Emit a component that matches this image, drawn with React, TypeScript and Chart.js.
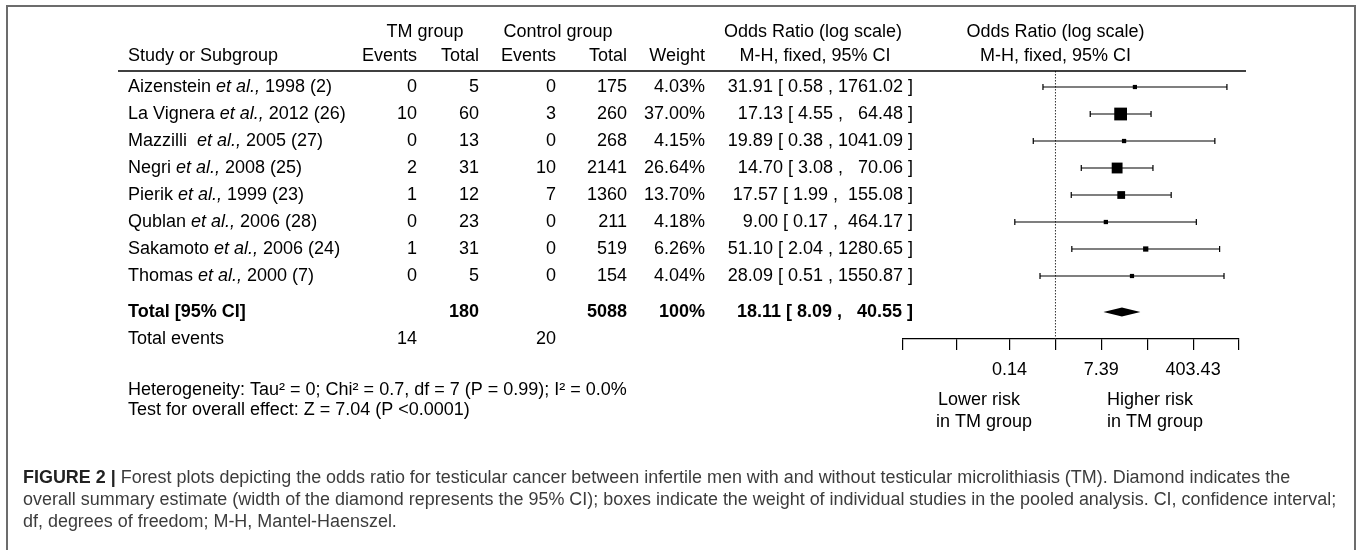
import React, { useEffect, useRef } from "react";
import { Chart, registerables } from "chart.js";

Chart.register(...registerables);

// ---------- data ----------
const studyAuthors = ["Aizenstein", "La Vignera", "Mazzilli ", "Negri", "Pierik", "Qublan", "Sakamoto", "Thomas"];
const studyRefs = ["1998 (2)", "2012 (26)", "2005 (27)", "2008 (25)", "1999 (23)", "2006 (28)", "2006 (24)", "2000 (7)"];
const tmEvents = [0, 10, 0, 2, 1, 0, 1, 0];
const tmTotal = [5, 60, 13, 31, 12, 23, 31, 5];
const ctlEvents = [0, 3, 0, 10, 7, 0, 0, 0];
const ctlTotal = [175, 260, 268, 2141, 1360, 211, 519, 154];
const weights = [4.03, 37.0, 4.15, 26.64, 13.7, 4.18, 6.26, 4.04];
const oddsRatio = [31.91, 17.13, 19.89, 14.7, 17.57, 9.0, 51.1, 28.09];
const ciLower = [0.58, 4.55, 0.38, 3.08, 1.99, 0.17, 2.04, 0.51];
const ciUpper = [1761.02, 64.48, 1041.09, 70.06, 155.08, 464.17, 1280.65, 1550.87];

const totalTm = 180;
const totalCtl = 5088;
const totalWeight = "100%";
const totalEventsTm = 14;
const totalEventsCtl = 20;
const pooledOR = 18.11;
const pooledLower = 8.09;
const pooledUpper = 40.55;

const tickValues = [0.0013, 0.0132, 0.1353, 1, 7.389, 54.6, 403.43, 2981];
const tickLabels = ["", "", "0.14", "", "7.39", "", "403.43", ""];
const xMin = 0.0013;
const xMax = 2981;

const heterogeneityText = "Heterogeneity: Tau\u00B2 = 0; Chi\u00B2 = 0.7, df = 7 (P = 0.99); I\u00B2 = 0.0%";
const overallText = "Test for overall effect: Z = 7.04 (P <0.0001)";
const captionBold = "FIGURE 2 |";
const captionLines = [
  " Forest plots depicting the odds ratio for testicular cancer between infertile men with and without testicular microlithiasis (TM). Diamond indicates the",
  "overall summary estimate (width of the diamond represents the 95% CI); boxes indicate the weight of individual studies in the pooled analysis. CI, confidence interval;",
  "df, degrees of freedom; M-H, Mantel-Haenszel.",
];

// ---------- layout / style ----------
const FONT = '"Liberation Sans", Arial, Helvetica, sans-serif';
const FS = 18;
const COL = { study: 128, tmEv: 417, tmTot: 479, ctlEv: 556, ctlTot: 627, weight: 705, orText: 913 };
const TOTAL_GAP = 1.333;
const totalRow = studyAuthors.length - 1 + TOTAL_GAP;
const eventsRow = totalRow + 1;

const fmtCI = (o: number, l: number, h: number) =>
  `${o.toFixed(2)} [ ${l.toFixed(2)} , ${h.toFixed(2).padStart(7, " ")} ]`;

const forestPlugin = {
  id: "forest",
  beforeDatasetsDraw(chart: any) {
    const { ctx, chartArea, scales } = chart;
    const x = scales.x;
    const y = scales.y;
    ctx.save();
    // line of no effect
    const x1 = x.getPixelForValue(1);
    ctx.strokeStyle = "#333";
    ctx.lineWidth = 1;
    ctx.setLineDash([1.5, 1.5]);
    ctx.beginPath();
    ctx.moveTo(x1, chartArea.top);
    ctx.lineTo(x1, chartArea.bottom);
    ctx.stroke();
    ctx.setLineDash([]);
    // confidence intervals
    ctx.strokeStyle = "#000";
    ctx.lineWidth = 1.2;
    for (let i = 0; i < oddsRatio.length; i++) {
      const py = y.getPixelForValue(i);
      const xl = x.getPixelForValue(ciLower[i]);
      const xh = x.getPixelForValue(ciUpper[i]);
      ctx.beginPath();
      ctx.moveTo(xl, py);
      ctx.lineTo(xh, py);
      ctx.moveTo(xl, py - 3);
      ctx.lineTo(xl, py + 3);
      ctx.moveTo(xh, py - 3);
      ctx.lineTo(xh, py + 3);
      ctx.stroke();
    }
    // pooled diamond
    const ty = y.getPixelForValue(totalRow);
    const dl = x.getPixelForValue(pooledLower);
    const dm = x.getPixelForValue(pooledOR);
    const dh = x.getPixelForValue(pooledUpper);
    ctx.fillStyle = "#000";
    ctx.beginPath();
    ctx.moveTo(dl, ty);
    ctx.lineTo(dm, ty - 4.5);
    ctx.lineTo(dh, ty);
    ctx.lineTo(dm, ty + 4.5);
    ctx.closePath();
    ctx.fill();
    ctx.restore();
  },
  afterDraw(chart: any) {
    const { ctx, scales } = chart;
    const x = scales.x;
    const y = scales.y;
    ctx.save();
    ctx.textBaseline = "middle";
    const t = (s: string, px: number, py: number, align: CanvasTextAlign = "left", style = "") => {
      ctx.font = `${style}${FS}px ${FONT}`;
      ctx.textAlign = align;
      ctx.fillText(s, px, py);
    };
    ctx.fillStyle = "#000";
    // headers
    const h1 = 32;
    const h2 = 56;
    t("TM group", 425, h1, "center");
    t("Control group", 558, h1, "center");
    t("Odds Ratio (log scale)", 813, h1, "center");
    t("Odds Ratio (log scale)", x.getPixelForValue(1), h1, "center");
    t("Study or Subgroup", COL.study, h2);
    t("Events", COL.tmEv, h2, "right");
    t("Total", COL.tmTot, h2, "right");
    t("Events", COL.ctlEv, h2, "right");
    t("Total", COL.ctlTot, h2, "right");
    t("Weight", COL.weight, h2, "right");
    t("M-H, fixed, 95% CI", 815, h2, "center");
    t("M-H, fixed, 95% CI", x.getPixelForValue(1), h2, "center");
    // header rule
    ctx.strokeStyle = "#000";
    ctx.lineWidth = 1.5;
    ctx.beginPath();
    ctx.moveTo(118, 71);
    ctx.lineTo(1246, 71);
    ctx.stroke();
    // study rows
    for (let i = 0; i < studyAuthors.length; i++) {
      const py = y.getPixelForValue(i);
      let px = COL.study;
      ctx.textAlign = "left";
      ctx.font = `${FS}px ${FONT}`;
      ctx.fillText(studyAuthors[i] + " ", px, py);
      px += ctx.measureText(studyAuthors[i] + " ").width;
      ctx.font = `italic ${FS}px ${FONT}`;
      ctx.fillText("et al.,", px, py);
      px += ctx.measureText("et al.,").width;
      ctx.font = `${FS}px ${FONT}`;
      ctx.fillText(" " + studyRefs[i], px, py);
      t(String(tmEvents[i]), COL.tmEv, py, "right");
      t(String(tmTotal[i]), COL.tmTot, py, "right");
      t(String(ctlEvents[i]), COL.ctlEv, py, "right");
      t(String(ctlTotal[i]), COL.ctlTot, py, "right");
      t(weights[i].toFixed(2) + "%", COL.weight, py, "right");
      t(fmtCI(oddsRatio[i], ciLower[i], ciUpper[i]), COL.orText, py, "right");
    }
    // total row
    const ty = y.getPixelForValue(totalRow);
    t("Total [95% CI]", COL.study, ty, "left", "bold ");
    t(String(totalTm), COL.tmTot, ty, "right", "bold ");
    t(String(totalCtl), COL.ctlTot, ty, "right", "bold ");
    t(totalWeight, COL.weight, ty, "right", "bold ");
    t(fmtCI(pooledOR, pooledLower, pooledUpper), COL.orText, ty, "right", "bold ");
    const ey = y.getPixelForValue(eventsRow);
    t("Total events", COL.study, ey);
    t(String(totalEventsTm), COL.tmEv, ey, "right");
    t(String(totalEventsCtl), COL.ctlEv, ey, "right");
    // stats
    t(heterogeneityText, COL.study, 390);
    t(overallText, COL.study, 410);
    // risk labels
    t("Lower risk", 938, 400);
    t("in TM group", 936, 422);
    t("Higher risk", 1107, 400);
    t("in TM group", 1107, 422);
    // caption
    const capX = 23;
    const capY = [478, 500, 522];
    ctx.font = `18px ${FONT}`;
    const w2 = ctx.measureText(captionLines[1]).width;
    const cfs = (18 * 1314) / w2;
    ctx.textAlign = "left";
    ctx.fillStyle = "#222";
    ctx.font = `bold ${cfs}px ${FONT}`;
    ctx.fillText(captionBold, capX, capY[0]);
    const bw = ctx.measureText(captionBold).width;
    ctx.fillStyle = "#3c3c3c";
    ctx.font = `${cfs}px ${FONT}`;
    ctx.fillText(captionLines[0], capX + bw, capY[0]);
    ctx.fillText(captionLines[1], capX, capY[1]);
    ctx.fillText(captionLines[2], capX, capY[2]);
    // figure frame (open at the bottom)
    ctx.strokeStyle = "#6c6c6c";
    ctx.lineWidth = 2;
    ctx.beginPath();
    ctx.moveTo(7, 550);
    ctx.lineTo(7, 6);
    ctx.lineTo(1355, 6);
    ctx.lineTo(1355, 550);
    ctx.stroke();
    ctx.restore();
  },
};

export default function App() {
  const ref = useRef<HTMLCanvasElement | null>(null);
  useEffect(() => {
    if (!ref.current) return;
    const chart = new Chart(ref.current, {
      type: "scatter",
      data: {
        datasets: [
          {
            data: oddsRatio.map((v, i) => ({ x: v, y: i })),
            pointStyle: "rect",
            pointRadius: weights.map((w) => (2.1 * Math.sqrt(w)) / Math.SQRT2),
            pointHoverRadius: weights.map((w) => (2.1 * Math.sqrt(w)) / Math.SQRT2),
            backgroundColor: "#000",
            borderWidth: 0,
          },
        ],
      },
      options: {
        responsive: false,
        maintainAspectRatio: false,
        animation: false,
        events: [],
        layout: { padding: { left: 903, right: 118, top: 71, bottom: 171 } },
        plugins: { legend: { display: false }, tooltip: { enabled: false } },
        scales: {
          x: {
            type: "logarithmic",
            min: xMin,
            max: xMax,
            bounds: "data",
            afterBuildTicks: (scale: any) => {
              scale.ticks = tickValues.map((v) => ({ value: v }));
            },
            afterFit: (scale: any) => {
              scale.height = 40;
            },
            grid: { drawOnChartArea: false, drawTicks: true, tickLength: 11, color: "#000", lineWidth: 1.2 },
            border: { display: true, color: "#000", width: 1.2 },
            ticks: {
              autoSkip: false,
              maxRotation: 0,
              minRotation: 0,
              padding: 9,
              color: "#000",
              font: { family: FONT, size: FS },
              callback: (_v: any, i: number) => tickLabels[i],
            },
          },
          y: {
            type: "linear",
            reverse: true,
            min: -0.593,
            max: eventsRow,
            display: false,
          },
        },
      },
      plugins: [forestPlugin],
    });
    return () => chart.destroy();
  }, []);
  return (
    <div style={{ position: "absolute", left: 0, top: 0, width: 1357, height: 550, background: "#fff" }}>
      <canvas ref={ref} width={1357} height={550} style={{ width: 1357, height: 550 }} />
    </div>
  );
}
